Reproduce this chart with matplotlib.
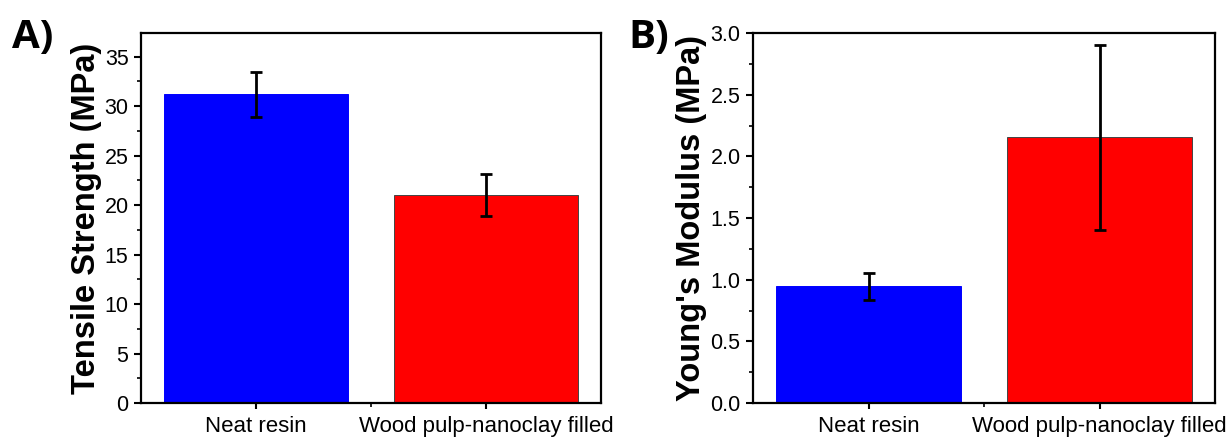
import matplotlib
matplotlib.use("Agg")
import matplotlib.pyplot as plt
from matplotlib.ticker import MultipleLocator, FixedLocator

plt.rcParams['font.family'] = ['Liberation Sans', 'DejaVu Sans']

categories = ["Neat resin", "Wood pulp-nanoclay filled"]
tensile = [31.2, 21.0]
tensile_err = [2.25, 2.1]
modulus = [0.945, 2.155]
modulus_err = [0.108, 0.75]
colors = ["#0000FF", "#FF0000"]

W, H = 1231, 437
fig = plt.figure(figsize=(W / 100, H / 100), dpi=100)

def px_axes(l, r, t, b):
    return fig.add_axes([l / W, 1 - b / H, (r - l) / W, (b - t) / H])

axA = px_axes(141, 601, 33, 403)
axB = px_axes(753, 1215, 33, 403)

def draw(ax, vals, errs, ylim, major, minor, ylabel, fmt, edgecols):
    x = [1, 2]
    ax.bar(x, vals, width=0.8, color=colors, edgecolor=edgecols, linewidth=0.7, zorder=2)
    ax.errorbar(x, vals, yerr=errs, fmt="none", ecolor="black", elinewidth=2,
                capsize=4, capthick=2, zorder=3)
    ax.set_xlim(0.5, 2.5)
    ax.set_ylim(*ylim)
    ax.xaxis.set_major_locator(FixedLocator(x))
    ax.xaxis.set_minor_locator(FixedLocator([1.5]))
    ax.set_xticklabels(categories, fontsize=16)
    ax.yaxis.set_major_locator(MultipleLocator(major))
    ax.yaxis.set_minor_locator(MultipleLocator(minor))
    ax.yaxis.set_major_formatter(plt.FormatStrFormatter(fmt))
    ax.tick_params(axis="y", which="major", length=5, width=1.5, labelsize=15.5, pad=4)
    ax.tick_params(axis="y", which="minor", length=3, width=1.2)
    ax.tick_params(axis="x", which="major", length=4.5, width=1.5, pad=5)
    ax.tick_params(axis="x", which="minor", length=3, width=1.2)
    for s in ax.spines.values():
        s.set_linewidth(1.6)
    ax.set_ylabel(ylabel, fontsize=23.5, fontweight="bold", labelpad=2)

draw(axA, tensile, tensile_err, (0, 37.4), 5, 2.5, "Tensile Strength (MPa)", "%d",
     ["#0000FF", "#444444"])
draw(axB, modulus, modulus_err, (0, 3.0), 0.5, 0.25, "Young's Modulus (MPa)", "%.1f",
     ["#0000FF", "#444444"])

fig.text(12 / W, 1 - 48 / H, "A)", fontsize=29, fontweight="bold",
         family=["Open Sans", "DejaVu Sans"], va="baseline", ha="left")
fig.text(628 / W, 1 - 48 / H, "B)", fontsize=29, fontweight="bold",
         family=["Open Sans", "DejaVu Sans"], va="baseline", ha="left")

fig.savefig("out.png", dpi=100)
